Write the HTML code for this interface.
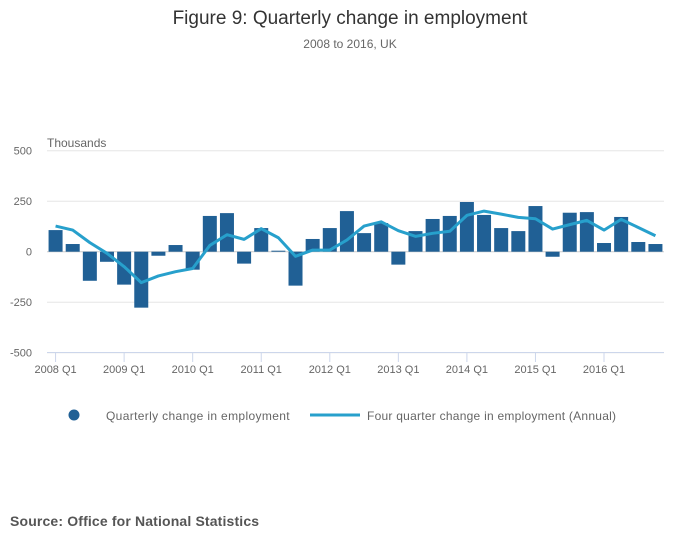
<!DOCTYPE html>
<html><head><meta charset="utf-8"><style>
body{margin:0;background:#fff;font-family:"Liberation Sans",sans-serif;}
</style></head><body>
<svg width="700" height="549" xmlns="http://www.w3.org/2000/svg" style="font-family:'Liberation Sans',sans-serif">
<text x="350" y="24" text-anchor="middle" font-size="19" fill="#333">Figure 9: Quarterly change in employment</text>
<text x="350" y="48" text-anchor="middle" font-size="12" fill="#666">2008 to 2016, UK</text>
<text x="47" y="147" font-size="12" fill="#666">Thousands</text>
<g id="grid"></g><g id="bars"></g><g id="line"></g><g id="axes"></g>
<g>
<circle cx="74" cy="415" r="5.5" fill="#206095"/>
<text x="106" y="420" font-size="12" letter-spacing="0.35" fill="#666">Quarterly change in employment</text>
<line x1="310" y1="415" x2="360" y2="415" stroke="#27a0cc" stroke-width="3"/>
<text x="367" y="420" font-size="12" letter-spacing="0.25" fill="#666">Four quarter change in employment (Annual)</text>
</g>
<text x="10" y="526" font-size="14" font-weight="bold" letter-spacing="0.15" fill="#555">Source: Office for National Statistics</text>
</svg>
<script>
const quarterly=[107,38,-144,-50,-163,-277,-20,33,-89,177,191,-59,117,5,-168,63,117,201,92,142,-64,102,162,177,246,182,117,102,226,-25,193,196,43,172,48,38];
const annual=[127,107,45,-8,-74,-153,-120,-99,-83,31,84,61,114,69,-23,8,8,58,127,148,104,76,91,101,180,201,186,170,163,112,134,155,107,160,120,79];
const yTicks=[500,250,0,-250,-500];
const xLabels=["2008 Q1","2009 Q1","2010 Q1","2011 Q1","2012 Q1","2013 Q1","2014 Q1","2015 Q1","2016 Q1"];
const NS="http://www.w3.org/2000/svg";
const L=47,R=664,bw=(R-L)/quarterly.length;
const y=v=>251.7-v*0.202;
const xc=i=>L+bw*(i+0.5);
function mk(t,a,p){const e=document.createElementNS(NS,t);for(const k in a)e.setAttribute(k,a[k]);document.getElementById(p).appendChild(e);return e;}
yTicks.forEach(v=>{
 const g=mk('line',{x1:L,x2:R,y1:y(v),y2:y(v),stroke:v===0?'#ccc':'#e6e6e6','stroke-width':1},'grid');
 
 
 const t=mk('text',{x:32,y:y(v)+4,'text-anchor':'end','font-size':11,fill:'#666'},'axes');
 t.textContent=v;
 
 
});
const ax=mk('line',{x1:L,x2:R,y1:352.5,y2:352.5,stroke:'#ccd6eb','stroke-width':1},'axes');


xLabels.forEach((s,k)=>{
 const i=k*4;
 const tk=mk('line',{x1:xc(i),x2:xc(i),y1:352,y2:362,stroke:'#ccd6eb'},'axes');
 
 
 const t=mk('text',{x:xc(i),y:373,'text-anchor':'middle','font-size':11,fill:'#666'},'axes');
 t.textContent=s;
 
 
});
quarterly.forEach((v,i)=>{
 const b=mk('rect',{x:xc(i)-7,width:14,y:Math.min(y(v),y(0)),height:Math.abs(y(v)-y(0)),fill:'#206095'},'bars');
 
 
});
const p=mk('polyline',{points:annual.map((v,i)=>xc(i)+','+y(v)).join(' '),fill:'none',stroke:'#27a0cc','stroke-width':3,'stroke-linejoin':'round'},'line');


</script>
</body></html>
